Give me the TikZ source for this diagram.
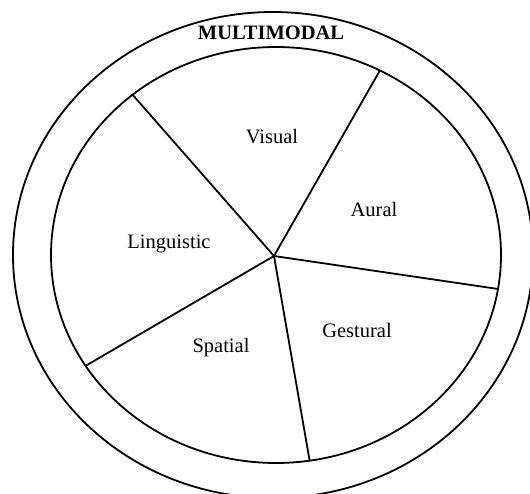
\documentclass[tikz,border=0pt]{standalone}
\usepackage{fontspec}
\setmainfont{Liberation Serif}
\usetikzlibrary{calc}
\begin{document}
\begin{tikzpicture}[x=1pt,y=-1pt,
  ring/.style={line width=1.8pt},
  spoke/.style={line width=1.8pt},
  lab/.style={font=\fontsize{20.5}{24}\selectfont, inner sep=0pt},
  title/.style={font=\fontsize{20.5}{24}\selectfont\bfseries, inner sep=0pt}]
\useasboundingbox (0,0) rectangle (530,494);
\clip (0,0) rectangle (530,494);
\coordinate (O) at (273,255);
\coordinate (I) at (276,255);
\coordinate (C) at (274,256);
\draw[ring] (O) ellipse [x radius=260pt, y radius=243pt];
\draw[ring] (I) ellipse [x radius=225pt, y radius=208pt];
\coordinate (p1) at ($(I)+({225*cos(230.4)},{208*sin(230.4)})$);
\coordinate (p2) at ($(I)+({225*cos(297.5)},{208*sin(297.5)})$);
\coordinate (p3) at ($(I)+({225*cos(9.4)},{208*sin(9.4)})$);
\coordinate (p4) at ($(I)+({225*cos(81.4)},{208*sin(81.4)})$);
\coordinate (p5) at ($(I)+({225*cos(147.8)},{208*sin(147.8)})$);
\foreach \p in {p1,p2,p3,p4,p5} \draw[spoke] (C) -- (\p);
\node[title] (multi) at (271,33) {MULTIMODAL};
\node[lab] (vis) at (272,137) {Visual};
\node[lab] (aur) at (374,209) {Aural};
\node[lab] (lin) at (169,244) {Linguistic};
\node[lab] (spa) at (221,348) {Spatial};
\node[lab] (ges) at (357,330) {Gestural};
\end{tikzpicture}
\end{document}
